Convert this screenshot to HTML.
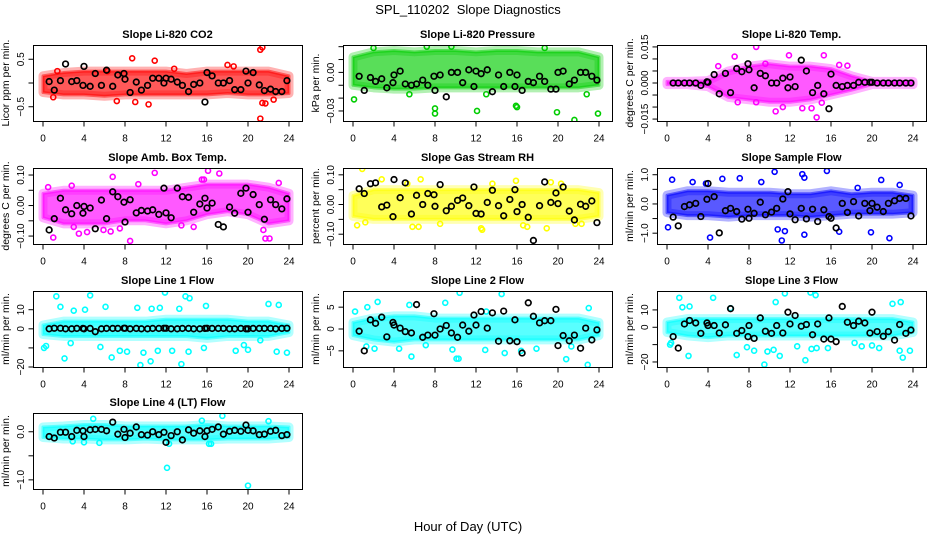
<!DOCTYPE html>
<html><head><meta charset="utf-8"><style>
html,body{margin:0;padding:0;background:#fff;}
svg{display:block;font-family:"Liberation Sans",Arial,sans-serif;}
</style></head><body>
<svg id="chart" width="936" height="540" viewBox="0 0 936 540">
<text x="468" y="14" text-anchor="middle" font-size="13">SPL_110202&#160; Slope Diagnostics</text>
<text x="468" y="531" text-anchor="middle" font-size="13">Hour of Day (UTC)</text>
</svg>
<script>
// shared hours
const bandHours = [0,2,4,6,8,10,12,14,16,18,20,22,24];
const blackHours = [0.6,1.1,1.7,2.2,2.8,3.3,3.9,4.0,4.6,5.1,5.7,6.2,6.8,7.3,7.9,8.0,8.5,9.1,9.6,10.2,10.7,11.3,11.8,12.0,12.5,13.1,13.6,14.2,14.7,15.3,15.8,16.0,16.5,17.1,17.6,18.2,18.7,19.3,19.8,20.0,20.5,21.1,21.6,22.2,22.7,23.3,23.8];
const xTicks = [0,4,8,12,16,20,24];

// CO2
const co2Lo = [-0.2,-0.25,-0.25,-0.28,-0.25,-0.25,-0.25,-0.25,-0.25,-0.22,-0.25,-0.25,-0.22];
const co2Hi = [0.15,0.22,0.25,0.25,0.25,0.25,0.25,0.2,0.25,0.25,0.25,0.25,0.15];
const co2OutX = [21.2,21.4,21.2,8.7,10.9,10.3,7.2,9.0,21.4,21.7,22.5,18.0,18.6,1.0,1.4,12.8,6.3];
const co2OutY = [0.7,0.75,-0.75,0.52,0.47,-0.45,-0.38,-0.4,-0.42,-0.43,-0.35,0.38,0.35,-0.3,0.25,0.3,0.25];
const co2Black = [0.03,-0.15,0.05,0.4,0.03,0.05,-0.05,0.35,-0.07,0.2,-0.05,0.27,-0.07,0.17,0.2,0.08,-0.2,0.02,-0.15,-0.05,0.1,0.1,0.0,0.1,0.08,0.02,-0.05,-0.18,-0.03,0.0,-0.4,0.22,0.15,0.0,0.0,0.05,-0.14,-0.14,0.25,0.0,0.22,-0.04,-0.16,-0.13,-0.18,-0.18,0.05];

// Pressure
const presLo = [-0.01,-0.012,-0.013,-0.013,-0.012,-0.012,-0.012,-0.012,-0.012,-0.012,-0.012,-0.012,-0.01];
const presHi = [0.012,0.016,0.017,0.016,0.017,0.017,0.016,0.017,0.017,0.016,0.016,0.016,0.012];
const presOutX = [0.1,8.0,8.0,12.1,15.9,16.0,19.9,21.6,23.9,5.5,22.8,13.0,2.0,7.2,9.6,18.7];
const presOutY = [-0.021,-0.028,-0.032,-0.03,-0.026,-0.027,-0.031,-0.037,-0.032,-0.017,-0.017,-0.017,0.019,0.02,0.02,0.019];
const presBlack = [-0.003,-0.014,-0.004,-0.007,-0.005,-0.012,-0.008,-0.002,0.001,-0.009,-0.01,-0.009,-0.006,-0.01,-0.003,-0.014,-0.002,-0.019,0.0,0.0,-0.008,0.002,-0.011,0.001,-0.001,0.002,-0.015,-0.002,-0.011,0.0,-0.011,-0.002,-0.014,-0.007,-0.008,-0.003,-0.007,-0.013,-0.013,0.0,0.001,-0.009,-0.006,0.0,0.0,-0.003,-0.006];

// Li-820 Temp
const tempLo = [-0.0007,-0.0007,-0.0015,-0.006,-0.007,-0.008,-0.008,-0.007,-0.005,-0.003,-0.0007,-0.0007,-0.0007];
const tempHi = [0.0007,0.0007,0.001,0.005,0.007,0.008,0.007,0.007,0.006,0.003,0.0007,0.0007,0.0007];
const tempOutX = [8.7,6.6,11.9,15.3,14.6,10.6,11.3,13.2,14.1,15.1,16.8,17.6,6.9,5.0,8.7,9.6];
const tempOutY = [0.015,0.011,0.0115,0.0115,-0.0143,-0.0118,-0.01,-0.0105,-0.0105,-0.0082,0.0075,0.0072,-0.008,0.007,-0.008,0.008];
const tempBlack = [0,0,0,0,0,-0.001,0.0005,0.0003,0.0035,-0.0045,0.004,-0.004,0.006,0.0047,0.008,0.0055,-0.002,0.004,0.003,0.0,0.0,0.002,-0.002,0.0025,-0.0015,0.0095,0.005,-0.004,-0.001,-0.0045,-0.0107,0.0037,-0.001,-0.0015,-0.001,-0.001,0.0003,0.0003,0.0003,0.0003,0,0,0,0,0,0,0];

// Amb. Box Temp
const ambLo = [-0.04,-0.06,-0.06,-0.06,-0.05,-0.05,-0.06,-0.05,-0.03,-0.02,-0.03,-0.06,-0.05];
const ambHi = [0.04,0.05,0.05,0.05,0.05,0.05,0.05,0.06,0.07,0.07,0.07,0.06,0.04];
const ambOutX = [1.0,6.8,8.5,10.9,16.1,17.2,21.5,21.7,22.1,23.0,3.5,4.3,15.5,15.7,0.5,2.8,9.3,13.5,14.7,5.9,6.6,7.5,3.0];
const ambOutY = [-0.105,0.094,-0.116,0.107,0.114,0.105,-0.08,-0.108,-0.108,0.074,-0.092,-0.087,0.085,0.085,0.06,0.065,0.07,-0.065,-0.07,-0.08,-0.085,-0.075,-0.07];
const ambBlack = [-0.08,-0.043,0.024,-0.014,-0.027,0,-0.025,-0.003,-0.008,-0.076,0.018,-0.043,0.045,0.029,0.011,-0.054,0.019,-0.024,-0.016,-0.018,-0.014,-0.029,0.057,-0.024,-0.04,0.057,0.029,0.027,-0.022,0.005,0.024,-0.008,0.008,-0.062,-0.07,-0.005,-0.025,0.04,0.057,-0.022,0.036,0.003,-0.045,0.019,0.003,-0.011,0.022];

// Gas Stream RH
const rhLo = [-0.04,-0.05,-0.05,-0.05,-0.05,-0.05,-0.05,-0.05,-0.05,-0.05,-0.05,-0.05,-0.04];
const rhHi = [0.03,0.05,0.05,0.05,0.05,0.05,0.05,0.05,0.05,0.05,0.05,0.05,0.04];
const rhOutX = [0.9,12.5,12.6,0.4,1.2,5.8,6.4,6.6,2.8,8.5,16.6,17.0,18.9,21.7,22.3,13.6,15.9,19.3,5.3,20.3];
const rhOutY = [0.12,-0.08,-0.085,-0.07,-0.06,-0.075,-0.075,0.085,0.085,-0.065,-0.07,-0.075,-0.08,-0.065,-0.065,0.07,0.08,0.075,0.07,0.07];
const rhBlack = [0.053,0.037,0.07,0.073,-0.008,-0.002,-0.041,0.084,0.023,0.073,-0.032,0.031,0,0.037,0.033,-0.006,0.067,-0.021,-0.006,0.014,0.022,-0.004,0.059,-0.03,-0.032,0.007,0.048,-0.004,-0.038,0.017,0.05,-0.024,0,-0.043,-0.121,-0.004,0.076,0.007,0.039,0.003,0.059,-0.022,-0.052,0.001,-0.006,0.012,-0.061];

// Sample Flow
const sfLo = [-0.3,-0.4,-0.4,-0.45,-0.4,-0.4,-0.4,-0.45,-0.4,-0.35,-0.35,-0.35,-0.3];
const sfHi = [0.3,0.45,0.45,0.4,0.4,0.4,0.35,0.35,0.45,0.35,0.4,0.4,0.3];
const sfOutX = [0.1,0.5,4.2,5.4,7.1,10.5,11.2,13.2,13.4,13.4,15.6,19.9,21.7,20.9,10.8,11.5,9.2,2.5,22.7,18.6,16.8,3.8];
const sfOutY = [-0.8,0.83,-1.15,0.86,0.88,1.1,-1.25,1.02,0.9,-1.05,1.13,-0.97,-1.17,0.82,-0.87,-0.93,0.75,0.75,0.65,0.55,-0.95,0.7];
const sfBlack = [-0.45,-0.75,-0.09,-0.03,0.02,-0.43,0.16,0.7,0.25,-0.99,-0.23,-0.15,-0.26,-0.52,-0.18,-0.49,-0.32,0.06,-0.37,-0.28,-0.15,0.17,0.42,-0.34,-0.54,-0.15,-0.51,-0.18,-0.6,-0.2,-0.43,-0.49,-0.82,0.02,-0.29,0.08,-0.41,0.02,-0.23,0.02,-0.11,-0.26,0.02,0.11,0.19,0.19,-0.41];

// Line 1 Flow
const l1Lo = [-3,-4,-4,-4,-4,-4,-4,-4,-5,-4,-4,-4,-2];
const l1Hi = [2,4,4,4,4,4,5,5,5,5,4,4,2];
const l1OutX = [1.3,1.7,4.6,6.1,11.9,13.9,14.3,15.9,22.0,23.0,2.1,6.7,9.5,10.5,13.5,0.1,0.3,5.6,7.5,8.2,9.8,11.2,12.6,15.7,18.8,19.6,20.0,22.8,23.8,14.2,3.0,4.1,9.2,10.6,11.4,13.3,2.7,21.2];
const l1OutY = [17,11.5,17.5,11.5,19,17,16,12,13,12.5,-15.5,-15,-19,-17,-18.5,-10,-9,-9.5,-11.5,-12,-12.5,-11.5,-11.5,-10,-11.5,-8.5,-11,-12,-12.5,-12,9.5,10,11,10.5,11,10.5,-7.5,-6];
const l1Black = [0,0.3,0.3,0,0,0.2,0.2,0,0.2,-1.5,0,0.2,0.2,0.2,0.3,0.3,0,0.2,0,0,0.2,0.2,0.3,0.3,0,0,0.2,0.2,0,0,0.2,0.3,0.2,0.2,0.2,0,0,0.2,0,0,0.2,0.2,0.2,0.2,0,0.2,0.3];

// Line 2 Flow
const l2Lo = [-1.5,-2.5,-3,-2.5,-2.5,-2.5,-2.5,-2.5,-2.5,-2.5,-2.5,-2.5,-1.5];
const l2Hi = [1.5,2.5,3,3,2.5,2.5,2.5,2.5,2.5,2.5,2.5,2.5,1.5];
const l2OutX = [10.4,14.5,2.4,5.5,9.0,5.7,10.1,10.3,9.7,12.9,14.8,20.8,22.9,16.4,0.2,1.4,13.0,23.0,1.3,2.1,4.5,7.1,17.9,21.3];
const l2OutY = [8.3,8.0,6.2,5.5,6.0,-6.3,-6.8,-6.8,-4.7,-4.8,-5.5,-6.9,-8.2,-5.0,4.0,5.0,4.0,4.8,-4.0,-4.5,-4.5,-3.7,-4.5,-4.0];
const l2Black = [-0.5,-5,2.1,1.3,2.7,-1.8,1.5,0.9,0.2,-0.6,-0.9,5.6,-1.9,-1.4,3.5,-1.4,0,0.8,-0.9,-1.9,0.9,-0.5,3.2,0.9,4.0,0.2,3.7,-2.8,4.1,-2.7,2.1,-2.9,-5.5,6.0,2.9,1.4,1.9,1.9,4.5,-3.8,-1.5,-2.7,-1.4,-4.4,0.2,-2.5,-0.2];

// Line 3 Flow
const l3Lo = [-3,-5,-6,-5,-5,-5,-5,-5,-5,-5,-5,-5,-3];
const l3Hi = [3,5,5,5,5,5,5,5,5,5,5,5,3];
const l3OutX = [1.2,4.5,11.5,14.0,14.5,10.6,22.8,22.0,2.2,1.5,6.2,9.5,13.5,2.1,6.8,11.0,23.0,0.3,0.4,8.5,9.8,10.4,12.7,14.1,14.6,15.7,18.3,19.0,20.0,22.7,23.7,20.7,7.8];
const l3OutY = [17,17,19.5,20,18.5,14.5,14.5,13.5,12,11.5,11,-21.5,-19,-16.5,-16,-16.5,-17.5,-10,-9,-13.5,-14,-13,-11,-12.5,-12,-12,-9,-11,-10.5,-13.5,-13.5,-12,-11.5];
const l3Black = [-5.4,-12,1.9,3.9,2.5,-3.5,2.5,1,1,-3.3,1.4,10.7,-3.5,-1.9,-5.4,1,-6.4,5.4,-2.3,-3.5,1,-3.3,8.7,1.9,6.8,0.6,1.6,-4.3,1.9,-6.8,5.4,-6.8,-8.3,12,2.9,1,3.5,2.5,-3.3,8.7,-2.5,-5.2,-2.5,-7.4,1.6,-3.5,-1.6];

// Line 4 (LT) Flow
const l4Lo = [-0.12,-0.15,-0.15,-0.17,-0.17,-0.15,-0.17,-0.17,-0.17,-0.15,-0.15,-0.15,-0.12];
const l4Hi = [0.1,0.12,0.15,0.15,0.12,0.12,0.12,0.12,0.15,0.12,0.12,0.12,0.1];
const l4OutX = [12.1,20.0,17.5,4.9,2.9,4.0,5.5,16.2,16.4,12.3,15.5,22.0];
const l4OutY = [-0.75,-1.12,0.33,0.27,-0.2,-0.22,-0.23,-0.25,-0.25,-0.25,0.23,0.22];
const l4Black = [-0.1,-0.13,-0.01,-0.01,-0.1,0.03,0.02,-0.1,0.04,0.05,0.05,0.02,0.2,-0.05,0.05,-0.12,-0.03,0.1,-0.06,-0.07,0,-0.06,-0.01,-0.22,-0.08,0,-0.17,0.04,-0.03,0.02,-0.1,0.02,0.05,0.1,-0.05,0.01,0.03,0.01,0.14,0.03,0.02,-0.06,-0.05,0.01,0.03,-0.08,-0.06];

const panels = [
 {name:'co2',title:'Slope Li-820 CO2',ylab:'Licor ppm per min.',col:'#ff0000',L:33,T:45,ylim:[-0.8,0.8],ticks:[-0.5,0,0.5],labels:['-0.5','0.5'],lo:co2Lo,hi:co2Hi,ox:co2OutX,oy:co2OutY,bk:co2Black},
 {name:'pressure',title:'Slope Li-820 Pressure',ylab:'kPa per min.',col:'#00cd00',L:343,T:45,ylim:[-0.0378,0.0213],ticks:[-0.03,-0.02,-0.01,0,0.01,0.02],labels:['-0.03','0.00'],lo:presLo,hi:presHi,ox:presOutX,oy:presOutY,bk:presBlack},
 {name:'li820-temp',title:'Slope Li-820 Temp.',ylab:'degrees C per min.',col:'#ff00ff',L:657,T:45,ylim:[-0.0158,0.0158],ticks:[-0.015,-0.01,-0.005,0,0.005,0.01,0.015],labels:['-0.015','0.000','0.015'],lo:tempLo,hi:tempHi,ox:tempOutX,oy:tempOutY,bk:tempBlack},
 {name:'amb-box-temp',title:'Slope Amb. Box Temp.',ylab:'degrees C per min.',col:'#ff00ff',L:33,T:168,ylim:[-0.126,0.123],ticks:[-0.1,-0.05,0,0.05,0.1],labels:['-0.10','0.00','0.10'],lo:ambLo,hi:ambHi,ox:ambOutX,oy:ambOutY,bk:ambBlack},
 {name:'gas-stream-rh',title:'Slope Gas Stream RH',ylab:'percent per min.',col:'#ffff00',L:343,T:168,ylim:[-0.133,0.123],ticks:[-0.1,-0.05,0,0.05,0.1],labels:['-0.10','0.00','0.10'],lo:rhLo,hi:rhHi,ox:rhOutX,oy:rhOutY,bk:rhBlack},
 {name:'sample-flow',title:'Slope Sample Flow',ylab:'ml/min per min.',col:'#0000ff',L:657,T:168,ylim:[-1.37,1.23],ticks:[-1,-0.5,0,0.5,1],labels:['-1.0','0.0','1.0'],lo:sfLo,hi:sfHi,ox:sfOutX,oy:sfOutY,bk:sfBlack},
 {name:'line1-flow',title:'Slope Line 1 Flow',ylab:'ml/min per min.',col:'#00ffff',L:33,T:291,ylim:[-20,19.8],ticks:[-20,-10,0,10],labels:['-20','0','10'],lo:l1Lo,hi:l1Hi,ox:l1OutX,oy:l1OutY,bk:l1Black},
 {name:'line2-flow',title:'Slope Line 2 Flow',ylab:'ml/min per min.',col:'#00ffff',L:343,T:291,ylim:[-8.7,8.7],ticks:[-5,0,5],labels:['-5','0','5'],lo:l2Lo,hi:l2Hi,ox:l2OutX,oy:l2OutY,bk:l2Black},
 {name:'line3-flow',title:'Slope Line 3 Flow',ylab:'ml/min per min.',col:'#00ffff',L:657,T:291,ylim:[-22.9,20.9],ticks:[-20,-10,0,10],labels:['-20','0','10'],lo:l3Lo,hi:l3Hi,ox:l3OutX,oy:l3OutY,bk:l3Black},
 {name:'line4-flow',title:'Slope Line 4 (LT) Flow',ylab:'ml/min per min.',col:'#00ffff',L:33,T:413,ylim:[-1.19,0.39],ticks:[-1,-0.5,0],labels:['-1.0','0.0'],lo:l4Lo,hi:l4Hi,ox:l4OutX,oy:l4OutY,bk:l4Black}
];

const NS='http://www.w3.org/2000/svg';
const svg=document.getElementById('chart');
function mk(tag,attrs,parent){const e=document.createElementNS(NS,tag);for(const k in attrs)e.setAttribute(k,attrs[k]);(parent||svg).appendChild(e);return e;}
const W=269,H=76;

panels.forEach(p=>{
  const g=mk('g',{});
  
  
  const xs=h=>p.L+10+h*(246/24);
  const ys=v=>p.T+H-(v-p.ylim[0])/(p.ylim[1]-p.ylim[0])*H;
  const cp=mk('clipPath',{id:'clip-'+p.name},g);
  mk('rect',{x:p.L,y:p.T,width:W,height:H},cp);
  const plot=mk('g',{'clip-path':'url(#clip-'+p.name+')'},g);
  
  
  let pts=[];
  bandHours.forEach((h,i)=>pts.push(xs(h)+','+ys(p.hi[i])));
  for(let i=bandHours.length-1;i>=0;i--)pts.push(xs(bandHours[i])+','+ys(p.lo[i]));
  const halo=mk('polygon',{points:pts.join(' '),fill:'none',stroke:p.col,'stroke-width':9,'stroke-opacity':0.3,'stroke-linejoin':'round'},plot);
  
  
  const band=mk('polygon',{points:pts.join(' '),fill:p.col,'fill-opacity':0.65,stroke:p.col,'stroke-width':3,'stroke-opacity':0.5,'stroke-linejoin':'round'},plot);
  
  
  p.ox.forEach((h,i)=>{
    const c=mk('circle',{cx:xs(h),cy:ys(p.oy[i]),r:2.5,fill:'none',stroke:p.col,'stroke-width':1.6},plot);
    
    
  });
  blackHours.forEach((h,i)=>{
    const c=mk('circle',{cx:xs(h),cy:ys(p.bk[i]),r:2.8,fill:'none',stroke:'#000','stroke-width':1.7},plot);
    
    
  });
  const box=mk('rect',{x:p.L+0.5,y:p.T+0.5,width:W,height:H,fill:'none',stroke:'#000','stroke-width':1},g);
  
  
  const t=mk('text',{x:p.L+W/2,y:p.T-7,'text-anchor':'middle','font-size':11,'font-weight':'bold'},g);
  t.textContent=p.title;
  
  
  const xb=p.T+H+0.5;
  mk('line',{x1:xs(0),x2:xs(24),y1:xb,y2:xb,stroke:'#000'},g);
  xTicks.forEach(h=>{
    mk('line',{x1:xs(h),x2:xs(h),y1:xb,y2:xb+5,stroke:'#000'},g);
    const tl=mk('text',{x:xs(h),y:xb+20,'text-anchor':'middle','font-size':10},g);
    tl.textContent=h;
    
    
  });
  const xl=p.L+0.5;
  mk('line',{x1:xl,x2:xl,y1:ys(p.ticks[0]),y2:ys(p.ticks[p.ticks.length-1]),stroke:'#000'},g);
  p.ticks.forEach(v=>{
    mk('line',{x1:xl-5,x2:xl,y1:ys(v),y2:ys(v),stroke:'#000'},g);
  });
  p.labels.forEach(s=>{
    const v=parseFloat(s);
    const tx=p.L-9, ty=ys(v);
    const yl=mk('text',{x:tx,y:ty,'text-anchor':'middle','font-size':10,transform:'rotate(-90 '+tx+' '+ty+')'},g);
    yl.textContent=s.replace('-','\u2212');
    
    
  });
  const ax=p.L-24, ay=p.T+H/2;
  const yt=mk('text',{x:ax,y:ay,'text-anchor':'middle','font-size':10.5,transform:'rotate(-90 '+ax+' '+ay+')'},g);
  yt.textContent=p.ylab;
  
  
});
</script>
</body></html>
